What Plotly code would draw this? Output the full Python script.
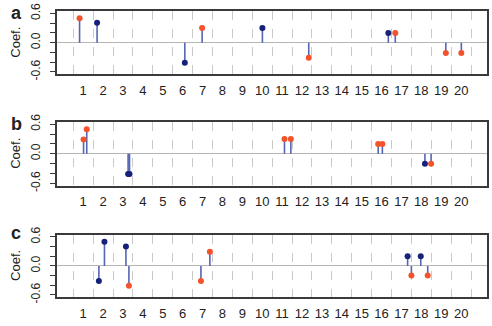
import plotly.graph_objects as go
from plotly.subplots import make_subplots

# ---- data ----
panels = ["a", "b", "c"]
red_x = {
    "a": [0.82, 6.98, 12.34, 16.69, 19.23, 20.01],
    "b": [1.02, 1.18, 11.12, 11.44, 15.83, 16.04, 18.49],
    "c": [3.30, 6.92, 7.37, 17.50, 18.32],
}
red_y = {
    "a": [0.50, 0.30, -0.31, 0.20, -0.21, -0.21],
    "b": [0.29, 0.50, 0.30, 0.30, 0.20, 0.20, -0.20],
    "c": [-0.41, -0.31, 0.29, -0.20, -0.20],
}
navy_x = {
    "a": [1.70, 6.11, 10.01, 16.34],
    "b": [3.26, 3.33, 18.18],
    "c": [1.79, 2.07, 3.15, 17.31, 17.97],
}
navy_y = {
    "a": [0.41, -0.41, 0.30, 0.20],
    "b": [-0.41, -0.41, -0.20],
    "c": [-0.31, 0.50, 0.40, 0.20, 0.20],
}
x_ticks = list(range(1, 21))
x_grid = [i + 0.5 for i in range(0, 21)]
y_ticks = [-0.6, -0.4, -0.2, 0.0, 0.2, 0.4, 0.6]
y_ticktext = ["-0.6", "", "", "0.0", "", "", "0.6"]
y_title = "Coef."

# ---- style ----
W, H = 492, 326
RED = "#F2532A"
NAVY = "#16217A"
STEM = "#5565B4"
GRID = "#C9C9C9"
BOX = "#3A3A3A"
FONT = "Liberation Sans, Arial, sans-serif"

# panel pixel boxes (top, bottom) and letter centre
pbox = {"a": (3.3, 69.3), "b": (119.0, 185.7), "c": (236.7, 302.3)}
letter_y = {"a": 5.0, "b": 121.0, "c": 235.0}
xl, xr = 57.3, 487.0

fig = make_subplots(rows=3, cols=1)

for i, p in enumerate(panels, start=1):
    xs = red_x[p] + navy_x[p]
    ys = red_y[p] + navy_y[p]
    sx, sy = [], []
    for x, y in zip(xs, ys):
        sx += [x, x, None]
        sy += [0, y, None]
    fig.add_trace(go.Scatter(x=sx, y=sy, mode="lines",
                             line=dict(color=STEM, width=1.6),
                             showlegend=False, hoverinfo="skip"), row=i, col=1)
    fig.add_trace(go.Scatter(x=navy_x[p], y=navy_y[p], mode="markers",
                             marker=dict(color=NAVY, size=6),
                             showlegend=False), row=i, col=1)
    fig.add_trace(go.Scatter(x=red_x[p], y=red_y[p], mode="markers",
                             marker=dict(color=RED, size=6),
                             showlegend=False), row=i, col=1)

    top, bot = pbox[p]
    xa = "xaxis" if i == 1 else f"xaxis{i}"
    ya = "yaxis" if i == 1 else f"yaxis{i}"
    fig.layout[xa].update(
        domain=[xl / W, xr / W], range=[-0.3, 21.3],
        tickmode="array", tickvals=x_ticks, ticktext=[str(t) for t in x_ticks],
        ticks="", showgrid=False, zeroline=False,
        showline=True, mirror=True, linecolor=BOX, linewidth=1.5,
        tickfont=dict(family=FONT, size=13, color="#222"),
        ticklabelstandoff=3,
        minor=dict(tickmode="array", tickvals=x_grid, showgrid=True,
                   gridcolor=GRID, griddash="dash", gridwidth=1, ticks=""),
    )
    fig.layout[ya].update(
        domain=[1 - bot / H, 1 - top / H], range=[-0.648, 0.648],
        tickmode="array", tickvals=y_ticks, ticktext=y_ticktext,
        ticks="outside", ticklen=6, tickwidth=1, tickcolor=BOX,
        tickangle=-90, showgrid=False,
        zeroline=True, zerolinecolor="#B5B5B5", zerolinewidth=1,
        showline=True, mirror=True, linecolor=BOX, linewidth=1.5,
        tickfont=dict(family=FONT, size=12, color="#222"),
        ticklabelstandoff=5,
    )
    mid = (top + bot) / 2
    fig.add_annotation(x=16 / W, y=1 - mid / H, xref="paper", yref="paper",
                       text=y_title, textangle=-90, showarrow=False,
                       font=dict(family=FONT, size=13, color="#222"),
                       xanchor="center", yanchor="middle")
    fig.add_annotation(x=16 / W, y=1 - letter_y[p] / H, xref="paper", yref="paper",
                       text=f"<b>{p}</b>", showarrow=False,
                       font=dict(family=FONT, size=18, color="#222"),
                       xanchor="center", yanchor="middle")

fig.update_layout(width=W, height=H, margin=dict(l=0, r=0, t=0, b=0),
                  paper_bgcolor="white", plot_bgcolor="white")
fig.write_html("out.html")
